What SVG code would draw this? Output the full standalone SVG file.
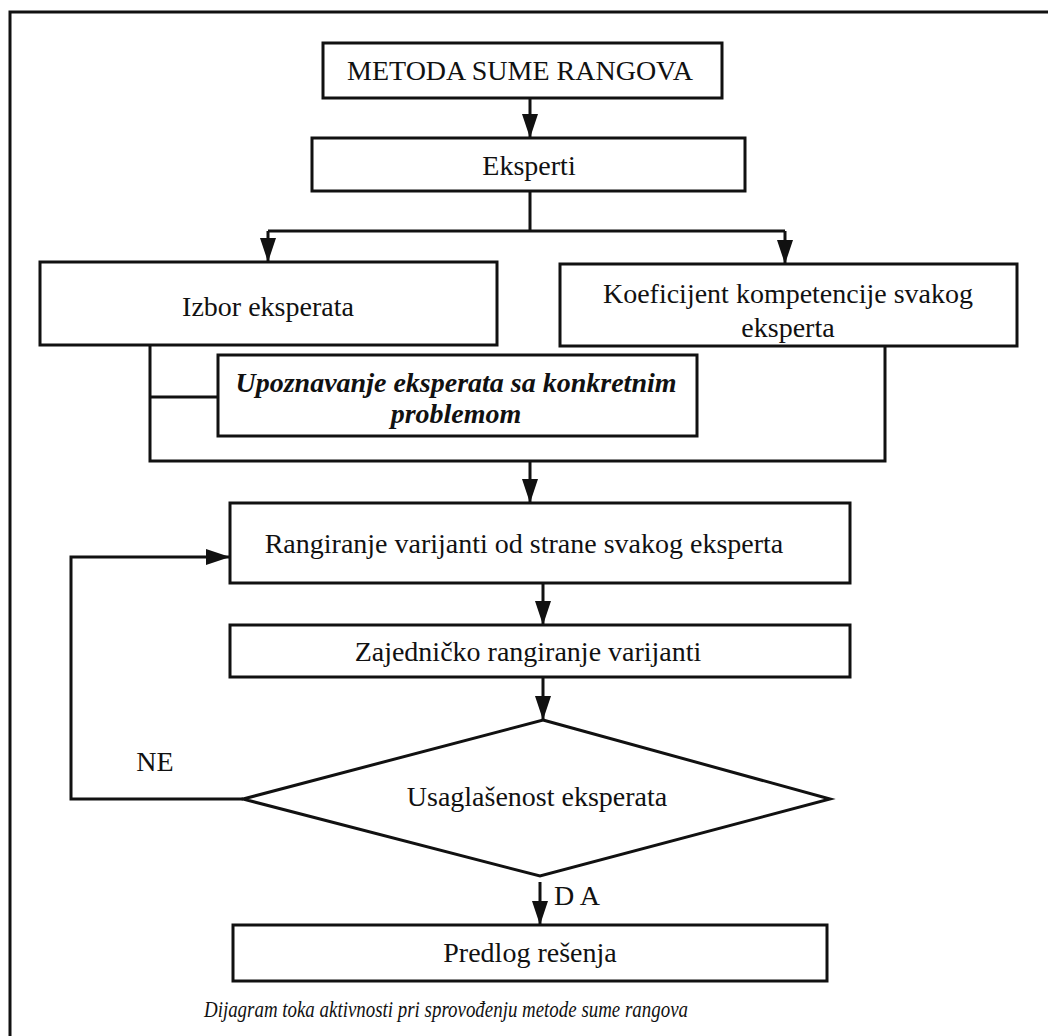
<svg xmlns="http://www.w3.org/2000/svg" width="1048" height="1036" viewBox="0 0 1048 1036">
<defs>
<style>
.box{fill:#fff;stroke:#111;stroke-width:3}
.ln{fill:none;stroke:#111;stroke-width:3}
.t{font-family:"Liberation Serif","Times New Roman",serif;font-size:28px;fill:#111;text-anchor:middle}
.bi{font-style:italic;font-weight:bold}
.cap{font-family:"Liberation Serif","Times New Roman",serif;font-size:23px;font-style:italic;fill:#111;text-anchor:middle}
</style>
<marker id="ah" markerWidth="24" markerHeight="16" refX="24" refY="8" viewBox="0 0 24 16" markerUnits="userSpaceOnUse" orient="auto">
<path d="M0,0 L24,8 L0,16 Z" fill="#111"/>
</marker>
</defs>
<rect width="1048" height="1036" fill="#fff"/>
<path class="ln" d="M10,1036 V12 H1048"/>
<g id="connectors">
<path class="ln" d="M530,98 V138" marker-end="url(#ah)"/>
<path class="ln" d="M530,191 V231 M268,231 H785"/>
<path class="ln" d="M268,231 V262" marker-end="url(#ah)"/>
<path class="ln" d="M785,231 V264" marker-end="url(#ah)"/>
<path class="ln" d="M150,345 V461 H885 V346 M150,397 H218"/>
<path class="ln" d="M530,461 V503" marker-end="url(#ah)"/>
<path class="ln" d="M543,583 V625" marker-end="url(#ah)"/>
<path class="ln" d="M543,677 V720" marker-end="url(#ah)"/>
<path class="ln" d="M243,799 H71 V557 H230" marker-end="url(#ah)"/>
<path class="ln" d="M540,882 V925" marker-end="url(#ah)"/>
<text class="t" x="155" y="771">NE</text>
<text class="t" x="577" y="905">D A</text>
</g>
<g id="n1"><rect class="box" x="323" y="43" width="399" height="55"/><text class="t" x="520" y="80">METODA SUME RANGOVA</text></g>
<g id="n2"><rect class="box" x="312" y="138" width="433" height="53"/><text class="t" x="529" y="175">Eksperti</text></g>
<g id="n3"><rect class="box" x="40" y="262" width="457" height="83"/><text class="t" x="268" y="316">Izbor eksperata</text></g>
<g id="n4"><rect class="box" x="560" y="264" width="457" height="82"/><text class="t" x="788" y="303">Koeficijent kompetencije svakog</text><text class="t" x="788" y="337">eksperta</text></g>
<g id="n5"><rect class="box" x="218" y="355" width="479" height="81"/><text class="t bi" x="456" y="392">Upoznavanje eksperata sa konkretnim</text><text class="t bi" x="456" y="423">problemom</text></g>
<g id="n6"><rect class="box" x="230" y="503" width="620" height="80"/><text class="t" x="524" y="553">Rangiranje varijanti od strane svakog eksperta</text></g>
<g id="n7"><rect class="box" x="230" y="625" width="620" height="52"/><text class="t" x="528" y="661">Zajedničko rangiranje varijanti</text></g>
<g id="n8"><path class="box" d="M543,720 L830,799 L540,876 L243,799 Z"/><text class="t" x="537" y="806">Usaglašenost eksperata</text></g>
<g id="n9"><rect class="box" x="233" y="925" width="594" height="56"/><text class="t" x="530" y="962">Predlog rešenja</text></g>
<text class="cap" x="446" y="1017" textLength="484" lengthAdjust="spacingAndGlyphs">Dijagram toka aktivnosti pri sprovođenju metode sume rangova</text>
</svg>
